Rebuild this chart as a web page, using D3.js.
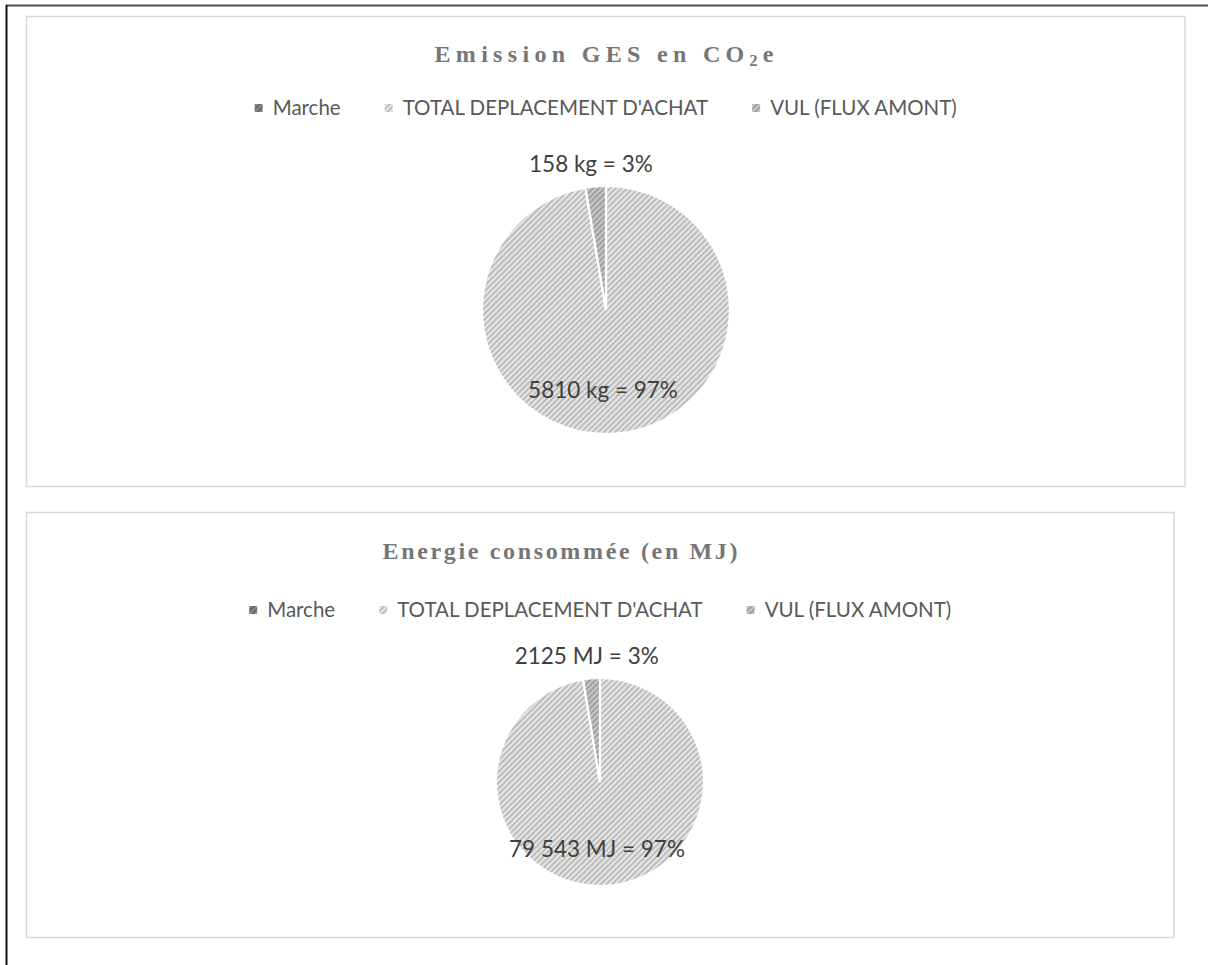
<!DOCTYPE html>
<html><head><meta charset="utf-8">
<script src="https://cdn.jsdelivr.net/npm/d3@7"></script>
<style>body{margin:0;background:#fff}</style>
</head><body>
<svg id="c" width="1208" height="965"></svg>
<script>
// ---- data ----
const categories = ["Marche", "TOTAL DEPLACEMENT D'ACHAT", "VUL (FLUX AMONT)"];
const emissionValues = [0, 5810, 158];
const emissionLabels = ["", "5810 kg = 97%", "158 kg = 3%"];
const energyValues = [0, 79543, 2125];
const energyLabels = ["", "79 543 MJ = 97%", "2125 MJ = 3%"];
const chartTitles = ["Emission GES en CO|2|e", "Energie consommée (en MJ)"];

const svg = d3.select("#c");
const defs = svg.append("defs");
const fills = [
  {id: "pMarche", bg: "#8c8c8c", fg: "#5e5e5e"},
  {id: "pTotal", bg: "#e6e6e6", fg: "#b2b2b2"},
  {id: "pVul", bg: "#c6c6c6", fg: "#969696"}
];
fills.forEach(f => {
  const p = defs.append("pattern").attr("id", f.id).attr("patternUnits", "userSpaceOnUse")
    .attr("width", 4).attr("height", 4).attr("patternTransform", "rotate(45)");
  p.append("rect").attr("width", 4).attr("height", 4).attr("fill", f.bg);
  p.append("rect").attr("x", 0).attr("width", 1.6).attr("height", 4).attr("fill", f.fg);
});
const color = d3.scaleOrdinal().domain(categories).range(fills.map(f => `url(#${f.id})`));

// outer frame
svg.append("line").attr("x1", 6).attr("x2", 1208).attr("y1", 5.5).attr("y2", 5.5)
  .attr("stroke", "#505050").attr("stroke-width", 2);
svg.append("line").attr("x1", 6.5).attr("x2", 6.5).attr("y1", 5).attr("y2", 965)
  .attr("stroke", "#111").attr("stroke-width", 2);

const panels = [
  {x0: 26.5, y0: 16.5, x1: 1185, y1: 486.5, cx: 606, cy: 310, r: 124,
   titleX: 604, titleW: 339, titleY: 62, legendY: 108,
   values: emissionValues, labels: emissionLabels, title: chartTitles[0]},
  {x0: 26.5, y0: 512.5, x1: 1174, y1: 937.5, cx: 600, cy: 782, r: 104,
   titleX: 560, titleW: 355, titleY: 559, legendY: 610,
   values: energyValues, labels: energyLabels, title: chartTitles[1]}
];

const pie = d3.pie().sort(null).value(d => d.v);

panels.forEach(P => {
  const g = svg.append("g");
  g.append("rect").attr("x", P.x0).attr("y", P.y0).attr("width", P.x1 - P.x0).attr("height", P.y1 - P.y0)
    .attr("fill", "#fff").attr("stroke", "#d9d9d9").attr("stroke-width", 1.5);
  const mid = (P.x0 + P.x1) / 2;

  // title (with optional subscript segment delimited by |)
  const parts = P.title.split("|");
  const t = g.append("text").attr("x", P.titleX - P.titleW / 2).attr("y", P.titleY)
    .attr("textLength", P.titleW).attr("lengthAdjust", "spacing")
    .attr("font-family", "'Liberation Serif', 'DejaVu Serif', serif").attr("font-weight", "bold")
    .attr("font-size", 24).attr("fill", "#767676");
  parts.forEach((s, i) => {
    const ts = t.append("tspan").text(s);
    if (i === 1) ts.attr("font-size", 16).attr("baseline-shift", "-25%");
  });

  // legend
  const lg = g.append("g");
  let x = 0;
  categories.forEach((c, i) => {
    const it = lg.append("g").attr("transform", `translate(${x},0)`);
    it.append("rect").attr("x", 0).attr("y", -4).attr("width", 8).attr("height", 8).attr("fill", color(c));
    const tx = it.append("text").attr("x", 18).attr("y", 0).attr("dy", "0.35em")
      .attr("font-family", "Lato, 'Open Sans', sans-serif").attr("font-size", 20.5).attr("fill", "#595959").text(c);
    x += 18 + tx.node().getComputedTextLength() + 44;
  });
  const lw = x - 44;
  lg.attr("transform", `translate(${mid - lw / 2},${P.legendY})`);

  // pie
  const data = categories.map((c, i) => ({c, v: P.values[i], label: P.labels[i]}));
  const arcs = pie(data);
  const arc = d3.arc().innerRadius(0).outerRadius(P.r);
  const pg = g.append("g").attr("transform", `translate(${P.cx},${P.cy})`);
  pg.selectAll("path").data(arcs).join("path").attr("d", arc)
    .attr("fill", d => color(d.data.c)).attr("stroke", "#fff").attr("stroke-width", 2.2)
    .attr("stroke-linejoin", "miter");

  const total = d3.sum(P.values);
  arcs.forEach(a => {
    if (!a.data.v) return;
    const share = a.data.v / total;
    let pos;
    if (share < 0.1) {
      const m = (a.startAngle + a.endAngle) / 2;
      pos = d3.arc().innerRadius(P.r + 22).outerRadius(P.r + 22).centroid({startAngle: m, endAngle: m});
    } else {
      pos = d3.arc().innerRadius(P.r * 0.65).outerRadius(P.r * 0.65).centroid({startAngle: Math.PI, endAngle: Math.PI});
    }
    pg.append("text").attr("x", pos[0] - 3).attr("y", pos[1]).attr("dy", "0.35em").attr("text-anchor", "middle")
      .attr("font-family", "Lato, 'Open Sans', sans-serif").attr("font-size", 22.5).attr("fill", "#404040")
      .text(a.data.label);
  });
});
</script>
</body></html>
